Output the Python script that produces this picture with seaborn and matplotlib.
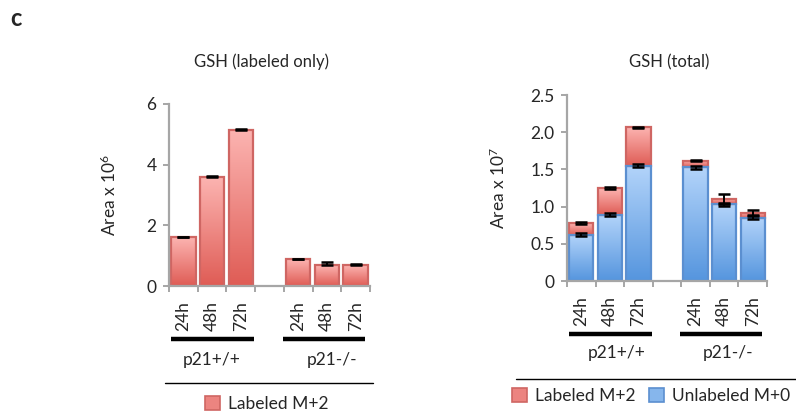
import numpy as np
import pandas as pd
import matplotlib
matplotlib.use("Agg")
import matplotlib.pyplot as plt
import matplotlib.transforms as mtransforms
from matplotlib.colors import LinearSegmentedColormap
from matplotlib.patches import Patch
import seaborn as sns

# ---- data -------------------------------------------------------------
genotypes = ["p21+/+", "p21-/-"]
timepoints = ["24h", "48h", "72h"]

# GSH labeled (M+2), area x 10^6
labeled_m2 = [1.60, 3.59, 5.15, 0.88, 0.69, 0.69]
labeled_m2_err = [0.03, 0.03, 0.03, 0.02, 0.11, 0.02]

# GSH total split, area x 10^7
unlabeled_m0 = [0.62, 0.89, 1.55, 1.53, 1.03, 0.85]
unlabeled_m0_err = [0.02, 0.02, 0.02, 0.02, 0.02, 0.02]
total_err = [0.01, 0.01, 0.01, 0.01, 0.07, 0.03]

# ---- style ------------------------------------------------------------
sns.set_theme(style="white")
plt.rcParams["font.family"] = ["Lato", "DejaVu Sans"]
plt.rcParams["mathtext.fontset"] = "custom"
plt.rcParams["mathtext.rm"] = "Lato"
plt.rcParams["mathtext.it"] = "Lato:italic"

AXIS_GREY = "#a6a6a6"
RED_EDGE, RED_TOP, RED_BOT = "#cf6663", "#fcb4b1", "#df5c55"
BLUE_EDGE, BLUE_TOP, BLUE_BOT = "#5b8fd0", "#b3d4fa", "#5595de"
FS = 12

# slots: three timepoints, an empty spacer, three timepoints
slot_names = [f"{g} {t}" for g in genotypes[:1] for t in timepoints] + ["gap"] + \
             [f"{g} {t}" for g in genotypes[1:] for t in timepoints]
bar_slots = [s for s in slot_names if s != "gap"]
bar_pos = [slot_names.index(s) for s in bar_slots]

df = pd.DataFrame({
    "slot": bar_slots,
    "m2_e6": labeled_m2,
    "m0_e7": unlabeled_m0,
    "m2_e7": np.array(labeled_m2) / 10.0,
})
df["total_e7"] = df["m0_e7"] + df["m2_e7"]


def gradient_fill(ax, patch, top, bottom):
    x0, y0 = patch.get_x(), patch.get_y()
    w, h = patch.get_width(), patch.get_height()
    cmap = LinearSegmentedColormap.from_list("grad", [bottom, top])
    grad = np.linspace(0, 1, 128).reshape(-1, 1)
    im = ax.imshow(grad, extent=[x0, x0 + w, y0, y0 + h], origin="lower",
                   cmap=cmap, aspect="auto", zorder=patch.get_zorder() - 0.05,
                   interpolation="bicubic")
    im.set_clip_path(patch)
    patch.set_facecolor("none")


def style_axes(ax, ymax, yticks, yticklabels):
    ax.set_xlim(-0.5, len(slot_names) - 0.5)
    ax.set_ylim(0, ymax)
    for side in ("top", "right"):
        ax.spines[side].set_visible(False)
    for side in ("left", "bottom"):
        ax.spines[side].set_color(AXIS_GREY)
        ax.spines[side].set_linewidth(1.6)
    ax.set_yticks(yticks)
    ax.set_yticklabels(yticklabels, fontsize=FS + 0.5)
    ax.tick_params(axis="y", direction="out", length=4, width=1.4,
                   color=AXIS_GREY, pad=5, left=True)
    # category boundaries carry the tick marks, centres carry the labels
    ax.set_xticks(np.arange(-0.5, len(slot_names)), minor=True)
    ax.set_xticks(bar_pos)
    ax.set_xticklabels(timepoints * 2, rotation=90, fontsize=FS + 0.5)
    ax.tick_params(axis="x", which="major", length=0, pad=11)
    ax.tick_params(axis="x", which="minor", direction="out", length=4,
                   width=1.4, color=AXIS_GREY, bottom=True)
    ax.set_xlabel("")


def group_annotations(ax, line_y, label_y, label_x, sep_y, sep_x, leg_anchor, handles):
    tr = mtransforms.blended_transform_factory(ax.transData, ax.transAxes)
    spans = [(-0.43, 2.46), (3.47, 6.34)]
    for (a, b), name, lx in zip(spans, genotypes, label_x):
        ax.plot([a, b], [line_y, line_y], color="black", lw=3.2,
                transform=tr, clip_on=False, solid_capstyle="butt")
        ax.text(lx, label_y, name, transform=tr, ha="center", va="center",
                fontsize=FS + 0.5)
    ax.plot(sep_x, [sep_y, sep_y], color="black", lw=1.0, transform=tr,
            clip_on=False)
    leg = ax.legend(handles=handles, loc="center left", bbox_to_anchor=leg_anchor,
                    frameon=False, ncol=len(handles), fontsize=FS + 0.5,
                    handlelength=0.85, handleheight=0.85, handletextpad=0.45,
                    columnspacing=0.8, borderpad=0, borderaxespad=0)
    return leg


fig = plt.figure(figsize=(7.96, 4.11), dpi=100)
W, H = 796, 411


def px_axes(x0, x1, ytop, ybot):
    return fig.add_axes([x0 / W, 1 - ybot / H, (x1 - x0) / W, (ybot - ytop) / H])


# ---- left: labeled only -----------------------------------------------
ax1 = px_axes(169, 370, 104, 286)
sns.barplot(data=df, x="slot", y="m2_e6", order=slot_names, ax=ax1,
            color=RED_BOT, width=0.85, errorbar=None, edgecolor=RED_EDGE,
            linewidth=1.6, zorder=2)
for p in ax1.patches:
    gradient_fill(ax1, p, RED_TOP, RED_BOT)
ax1.errorbar(bar_pos, labeled_m2, yerr=[np.zeros(6), labeled_m2_err], fmt="none",
             ecolor="black", elinewidth=1.4, capsize=4.5, capthick=1.8, zorder=4)
style_axes(ax1, 6, [0, 2, 4, 6], ["0", "2", "4", "6"])
ax1.set_ylabel(r"Area x 10$^{6}$", fontsize=FS + 0.5, labelpad=20)
group_annotations(ax1, -0.291, -0.405, [1.0, 5.18], -0.533, [-0.64, 6.6],
                  (0.18, -0.648),
                  [Patch(facecolor="#ec8480", edgecolor=RED_EDGE, lw=1.2,
                         label="Labeled M+2")])

# ---- right: total -----------------------------------------------------
ax2 = px_axes(567, 767, 95, 281)
sns.barplot(data=df, x="slot", y="m2_e7", order=slot_names, ax=ax2,
            color=RED_BOT, width=0.85, errorbar=None, edgecolor=RED_EDGE,
            linewidth=1.6, zorder=2)
red_patches = list(ax2.patches)
# stack the labeled segment on top of the unlabeled one
for p, base in zip(red_patches, df["m0_e7"]):
    p.set_y(base)
sns.barplot(data=df, x="slot", y="m0_e7", order=slot_names, ax=ax2,
            color=BLUE_BOT, width=0.85, errorbar=None, edgecolor=BLUE_EDGE,
            linewidth=1.6, zorder=2)
blue_patches = [p for p in ax2.patches if p not in red_patches]
for p in red_patches:
    gradient_fill(ax2, p, RED_TOP, RED_BOT)
for p in blue_patches:
    gradient_fill(ax2, p, BLUE_TOP, BLUE_BOT)
ax2.errorbar(bar_pos, df["m0_e7"], yerr=unlabeled_m0_err, fmt="none",
             ecolor="black", elinewidth=1.4, capsize=4.5, capthick=1.8, zorder=4)
ax2.errorbar(bar_pos, df["total_e7"], yerr=total_err, fmt="none",
             ecolor="black", elinewidth=1.4, capsize=4.5, capthick=1.8, zorder=4)
style_axes(ax2, 2.5, [0, 0.5, 1.0, 1.5, 2.0, 2.5],
           ["0", "0.5", "1.0", "1.5", "2.0", "2.5"])
ax2.set_ylabel(r"Area x 10$^{7}$", fontsize=FS + 0.5, labelpad=16)
group_annotations(ax2, -0.285, -0.387, [1.25, 5.13], -0.527, [-2.3, 7.6],
                  (-0.275, -0.618),
                  [Patch(facecolor="#ec8480", edgecolor=RED_EDGE, lw=1.2,
                         label="Labeled M+2"),
                   Patch(facecolor="#86b6ec", edgecolor=BLUE_EDGE, lw=1.2,
                         label="Unlabeled M+0")])

# ---- titles and panel letter -------------------------------------------
fig.text(261 / W, 1 - 62 / H, "GSH (labeled only)", ha="center", va="center",
         fontsize=FS)
fig.text(669 / W, 1 - 62 / H, "GSH (total)", ha="center", va="center",
         fontsize=FS)
fig.text(16 / W, 1 - 18 / H, "c", ha="center", va="center", fontsize=17,
         fontweight="bold")

fig.savefig("out.png", dpi=100)
